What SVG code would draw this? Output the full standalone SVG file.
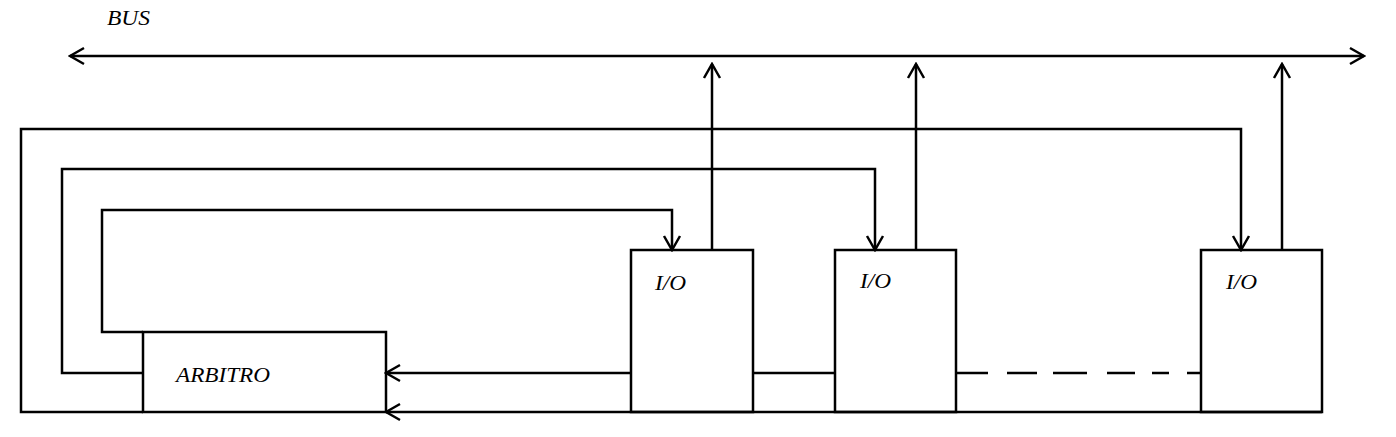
<svg xmlns="http://www.w3.org/2000/svg" width="1396" height="437" viewBox="0 0 1396 437">
<style>
.ln{fill:none;stroke:#000;stroke-width:2.5}
.t{font-family:"Liberation Serif",serif;font-style:italic;font-size:21px;fill:#000}
</style>
<defs>
<marker id="ah" viewBox="-16 -10 18 20" markerWidth="18" markerHeight="20" refX="0" refY="0" orient="auto-start-reverse" markerUnits="userSpaceOnUse">
<path d="M-14,-8 L0,0 L-14,8" fill="none" stroke="#000" stroke-width="2.5"/>
</marker>
</defs>
<rect width="1396" height="437" fill="#fff"/>
<text class="t" x="107" y="25" font-size="19" textLength="43" lengthAdjust="spacingAndGlyphs">BUS</text>
<g id="connectors">
<line class="ln" x1="70" y1="56" x2="1364" y2="56" marker-start="url(#ah)" marker-end="url(#ah)"/>
<polyline class="ln" points="143,412 21,412 21,129 1241,129 1241,250" marker-end="url(#ah)"/>
<polyline class="ln" points="143,373 62,373 62,169 875,169 875,250" marker-end="url(#ah)"/>
<polyline class="ln" points="143,332 102,332 102,210 672,210 672,250" marker-end="url(#ah)"/>
<line class="ln" x1="631" y1="373" x2="386" y2="373" marker-end="url(#ah)"/>
<line class="ln" x1="1322" y1="412" x2="386" y2="412" marker-end="url(#ah)"/>
<line class="ln" x1="753" y1="373" x2="835" y2="373"/>
<line class="ln" x1="955" y1="373" x2="1201" y2="373" stroke-dasharray="33 19 30 16 34 20 28 17 17 18 20 0"/>
<line class="ln" x1="712" y1="250" x2="712" y2="64" marker-end="url(#ah)"/>
<line class="ln" x1="916" y1="250" x2="916" y2="64" marker-end="url(#ah)"/>
<line class="ln" x1="1282" y1="250" x2="1282" y2="64" marker-end="url(#ah)"/>
</g>
<g id="arbitro">
<rect class="ln" x="143" y="332" width="243" height="80"/>
<text class="t" x="176" y="382" textLength="94" lengthAdjust="spacingAndGlyphs">ARBITRO</text>
</g>
<g id="io1">
<rect class="ln" x="631" y="250" width="122" height="162"/>
<text class="t" x="655" y="290" textLength="31" lengthAdjust="spacingAndGlyphs">I/O</text>
</g>
<g id="io2">
<rect class="ln" x="835" y="250" width="121" height="162"/>
<text class="t" x="860" y="288" textLength="31" lengthAdjust="spacingAndGlyphs">I/O</text>
</g>
<g id="io3">
<rect class="ln" x="1201" y="250" width="121" height="162"/>
<text class="t" x="1226" y="289" textLength="31" lengthAdjust="spacingAndGlyphs">I/O</text>
</g>
</svg>
